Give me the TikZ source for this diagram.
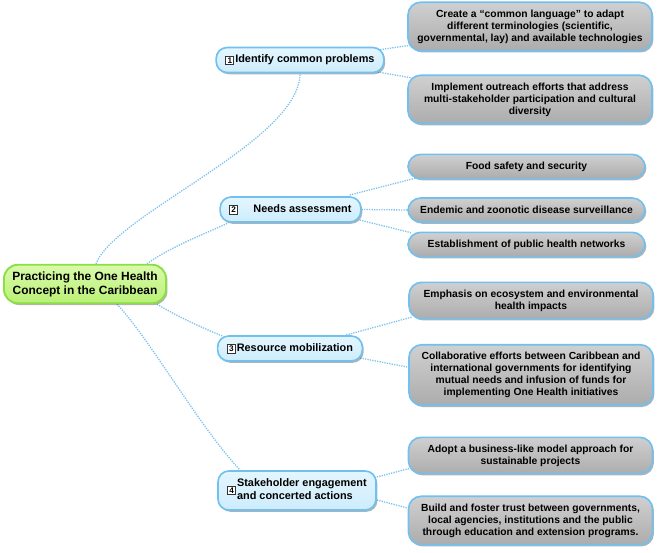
\documentclass[tikz,border=0pt]{standalone}
\usepackage{fontspec}
\setmainfont{Liberation Sans}
\usetikzlibrary{shadows,backgrounds}
\definecolor{edgeblue}{RGB}{125,195,238}
\definecolor{borderblue}{RGB}{112,192,240}
\definecolor{branchtop}{RGB}{228,246,254}
\definecolor{branchbottom}{RGB}{205,236,252}
\definecolor{leaftop}{RGB}{208,208,208}
\definecolor{leafbottom}{RGB}{172,172,172}
\definecolor{roottop}{RGB}{218,250,172}
\definecolor{rootbottom}{RGB}{186,240,118}
\definecolor{rootborder}{RGB}{140,222,70}
\newcommand{\numtag}[1]{$\vcenter{\hbox{\setlength{\fboxsep}{0.9pt}\setlength{\fboxrule}{0.6pt}\fcolorbox{black!80}{white}{\fontsize{7}{7}\selectfont\makebox[0.62em]{#1}}}}$\kern1pt}
\tikzstyle{node_shadow} = [drop shadow={shadow xshift=1.2pt, shadow yshift=-1.5pt, fill=black, opacity=0.3}]
\tikzstyle{node_root} = [draw=rootborder, line width=1.6pt, rounded corners=0.42cm, top color=roottop, bottom color=rootbottom, node_shadow, align=center, inner xsep=0.25cm, inner ysep=0.2cm, font=\fontsize{10.2}{12}\selectfont\bfseries]
\tikzstyle{node_branch} = [draw=borderblue, line width=1.4pt, rounded corners=0.33cm, top color=branchtop, bottom color=branchbottom, node_shadow, align=left, inner xsep=0.28cm, inner ysep=0.2cm, minimum height=0.75cm, font=\fontsize{9.3}{11}\selectfont\bfseries]
\tikzstyle{node_leaf} = [draw=borderblue, line width=1.4pt, rounded corners=0.38cm, top color=leaftop, bottom color=leafbottom, node_shadow, align=center, inner xsep=0.15cm, inner ysep=0.22cm, minimum width=7.32cm, minimum height=0.72cm, font=\fontsize{8.8}{10.3}\selectfont\bfseries]
\tikzstyle{edge_main} = [edgeblue, line width=1.1pt, densely dotted]
\tikzstyle{edge_sub} = [edgeblue, line width=1.1pt, densely dotted]

\begin{document}
\begin{tikzpicture}[x=0.03cm, y=-0.03cm]
\useasboundingbox (0,0) rectangle (663,552);
\node (R) at (85,284) [node_root] {Practicing the One Health\\Concept in the Caribbean};
\node (B1) at (300,60) [node_branch] {\numtag{1}Identify common problems};
\node (B2) at (290.5,209.5) [node_branch] {\numtag{2}\hspace{1.3em}Needs assessment};
\node (B3) at (290,348.5) [node_branch] {\numtag{3}Resource mobilization};
\node (B4) at (297,490.5) [node_branch] {\numtag{4}\begin{tabular}{@{}l@{}}Stakeholder engagement\\and concerted actions\end{tabular}};
\node (L1a) at (530,26.5) [node_leaf] {Create a ``common language'' to adapt\\different terminologies (scientific,\\governmental, lay) and available technologies};
\node (L1b) at (530,99.5) [node_leaf] {Implement outreach efforts that address\\multi-stakeholder participation and cultural\\diversity};
\node (L2a) at (526.5,166.5) [node_leaf, minimum width=7.11cm] {Food safety and security};
\node (L2b) at (526.5,210) [node_leaf, minimum width=7.11cm] {Endemic and zoonotic disease surveillance};
\node (L2c) at (526.5,244.5) [node_leaf, minimum width=7.11cm] {Establishment of public health networks};
\node (L3a) at (531,300.5) [node_leaf] {Emphasis on ecosystem and environmental\\health impacts};
\node (L3b) at (531,375) [node_leaf] {Collaborative efforts between Caribbean and\\international governments for identifying\\mutual needs and infusion of funds for\\implementing One Health initiatives};
\node (L4a) at (530.5,455.5) [node_leaf] {Adopt a business-like model approach for\\sustainable projects};
\node (L4b) at (530.5,520.5) [node_leaf] {Build and foster trust between governments,\\local agencies, institutions and the public\\through education and extension programs.};
\begin{scope}[on background layer]
% root to main topics
\draw[edge_main] ([shift={(11,0)}]R.north) .. controls +(19,-50) and +(0,68) .. (B1.south);
\draw[edge_main] ([shift={(-20,0)}]R.north east) .. controls +(25,-18) and +(-25,12) .. ([shift={(9,0)}]B2.south west);
\draw[edge_main] ([shift={(-10,0)}]R.south east) .. controls +(20,12) and +(-20,-8) .. ([shift={(6,1)}]B3.north west);
\draw[edge_main] ([shift={(32,0)}]R.south) .. controls +(33,35) and +(-40,-42) .. ([shift={(23,0)}]B4.north west);
% main topics to details
\draw[edge_sub] ([shift={(-7,-10)}]B1.east) -- ([shift={(5,18.5)}]L1a.west);
\draw[edge_sub] ([shift={(-7,12)}]B1.east) -- ([shift={(5,-21.5)}]L1b.west);
\draw[edge_sub] ([shift={(-12,-14.5)}]B2.east) -- ([shift={(9,11.5)}]L2a.west);
\draw[edge_sub] (B2.east) -- (L2b.west);
\draw[edge_sub] ([shift={(-2,10.5)}]B2.east) -- ([shift={(5,-11.5)}]L2c.west);
\draw[edge_sub] ([shift={(-17,-13.5)}]B3.east) -- ([shift={(4,16.5)}]L3a.west);
\draw[edge_sub] ([shift={(-3,9.5)}]B3.east) -- ([shift={(-1,-8)}]L3b.west);
\draw[edge_sub] ([shift={(0,-13.5)}]B4.east) -- ([shift={(3.5,12.5)}]L4a.west);
\draw[edge_sub] ([shift={(0,9.5)}]B4.east) -- ([shift={(0,-12.5)}]L4b.west);
\end{scope}
\end{tikzpicture}
\end{document}
